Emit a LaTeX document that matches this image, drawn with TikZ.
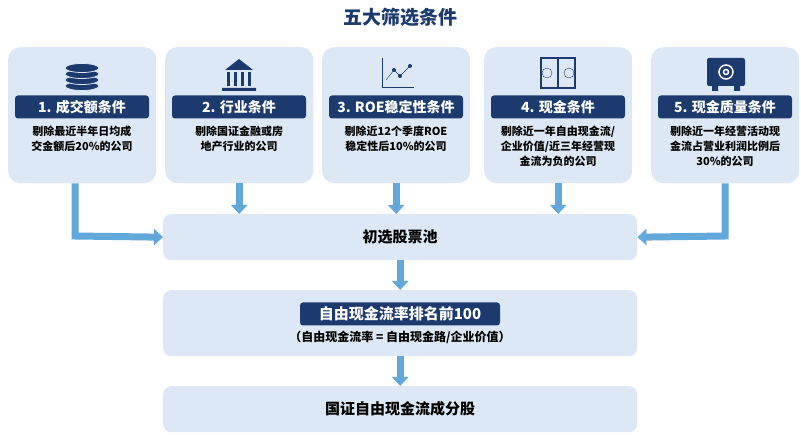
\documentclass[tikz,border=0pt]{standalone}
\usepackage{fontspec}
\newfontfamily\cjk{Noto Sans CJK SC}
\usetikzlibrary{positioning}
\usetikzlibrary{arrows.meta}
\definecolor{navy}{HTML}{1C3A6E}
\definecolor{panel}{HTML}{DCE8F5}
\definecolor{arrowblue}{HTML}{62A8DA}

\begin{document}
\begin{tikzpicture}[x=1pt,y=-1pt,font=\cjk]
	\tikzstyle{PanelStyle} = [rounded corners=12pt, fill=panel, minimum width=148pt, minimum height=136pt, anchor=north west]
	\tikzstyle{BarStyle}   = [rounded corners=3pt, fill=navy, text=white, font=\cjk\bfseries\fontsize{14}{16}\selectfont, minimum width=134pt, minimum height=23pt]
	\tikzstyle{NoteStyle}  = [align=center, font=\cjk\bfseries\fontsize{11}{15}\selectfont, text width=146pt, inner sep=0pt]
	\tikzstyle{StageStyle} = [rounded corners=8pt, fill=panel, minimum width=474pt, anchor=north west]
	\tikzstyle{FlowStyle}  = [line width=7pt, arrowblue, -{Triangle[width=16pt,length=9pt]}]
	\useasboundingbox (0,0) rectangle (801,435);
	%\draw[help lines] (0,0) grid[step=50] (801,435);
	\node[text=navy, font=\cjk\bfseries\fontsize{19}{22}\selectfont] (title) at (400,17) {五大筛选条件};
	% five criteria panels
	\node[PanelStyle] (p1) at (8,47) {};   \node[PanelStyle] (p2) at (165,47) {};
	\node[PanelStyle] (p3) at (322,47) {}; \node[PanelStyle] (p4) at (484,47) {};
	\node[PanelStyle] (p5) at (651,47) {};
	\node[BarStyle] (b1) at (82,107) {1. 成交额条件};
	\node[BarStyle] (b2) at (239,107) {2. 行业条件};
	\node[BarStyle] (b3) at (396,107) {3. ROE稳定性条件};
	\node[BarStyle] (b4) at (558,107) {4. 现金条件};
	\node[BarStyle] (b5) at (725,107) {5. 现金质量条件};
	\node[NoteStyle, below=7pt of b1] (n1) {剔除最近半年日均成\\交金额后20\%的公司};
	\node[NoteStyle, below=7pt of b2] (n2) {剔除国证金融或房\\地产行业的公司};
	\node[NoteStyle, below=7pt of b3] (n3) {剔除近12个季度ROE\\稳定性后10\%的公司};
	\node[NoteStyle, below=7pt of b4] (n4) {剔除近一年自由现金流/\\企业价值/近三年经营现\\金流为负的公司};
	\node[NoteStyle, below=7pt of b5] (n5) {剔除近一年经营活动现\\金流占营业利润比例后\\30\%的公司};
	% icons
	\foreach \k in {0,...,3}
		\draw[panel, fill=navy, line width=0.8pt] (82,{86-6*\k}) ellipse (17 and 4.5);
	\fill[navy] (222,88) rectangle (256,91) (225,70) -- (239,59) -- (253,70) -- cycle;
	\foreach \i in {0,...,3} \fill[navy] ({227+\i*7},72) rectangle ({230+\i*7},86);
	\draw[navy, line width=1pt] (382,58) -- (382,88) -- (414,88);
	\draw[navy] (386,80) -- (394,70) -- (400,76) -- (410,66);
	\foreach \p in {(394,70),(400,76),(410,66)} \fill[navy] \p circle (2pt);
	\draw[navy, line width=1.5pt] (541,58) rectangle (575,88) (558,58) -- (558,88);
	\draw[navy] (547,73) circle (5pt) (569,73) circle (5pt);
	\fill[navy, rounded corners=2pt] (707,58) rectangle (745,86);
	\draw[white, line width=1.5pt] (726,72) circle (7pt) (726,72) circle (2.5pt);
	\fill[navy] (712,86) rectangle (718,91) (734,86) rectangle (740,91);
	% pipeline
	\node[StageStyle, minimum height=46pt] (pool) at (163,214) {};
	\node[font=\cjk\bfseries\fontsize{15}{18}\selectfont] (pooltext) at (pool.center) {初选股票池};
	\node[StageStyle, minimum height=66pt] (rank) at (163,290) {};
	\node[BarStyle, minimum width=200pt, font=\cjk\bfseries\fontsize{15}{18}\selectfont] (rankbar) at (400,314) {自由现金流率排名前100};
	\node[font=\cjk\bfseries\fontsize{12}{14}\selectfont, below=2pt of rankbar] (ratio) {（自由现金流率 = 自由现金路/企业价值）};
	\node[StageStyle, minimum height=46pt] (final) at (163,386) {};
	\node[font=\cjk\bfseries\fontsize{15}{18}\selectfont] (finaltext) at (final.center) {国证自由现金流成分股};
	\coordinate (c1) at (75,236); \coordinate (c5) at (725,236);
	\draw[FlowStyle] (p1.south -| c1) -- (c1) -- (pool.west);
	\draw[FlowStyle] (p5.south -| c5) -- (c5) -- (pool.east);
	\foreach \p in {p2,p3,p4}
		\draw[FlowStyle] (\p.south) -- (\p.south |- pool.north);
	\draw[FlowStyle] (pool.south) -- (rank.north);
	\draw[FlowStyle] (rank.south) -- (final.north);
\end{tikzpicture}
\end{document}
